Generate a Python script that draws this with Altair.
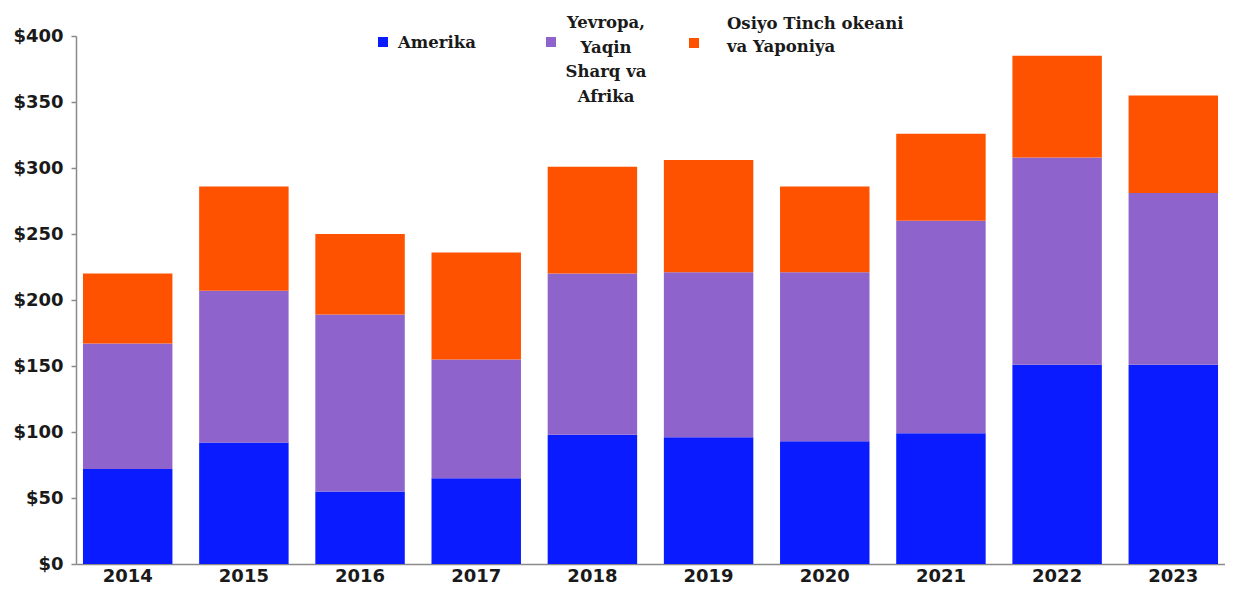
import altair as alt
import pandas as pd

years = ["2014", "2015", "2016", "2017", "2018", "2019", "2020", "2021", "2022", "2023"]
series = ["Amerika", "Yevropa, Yaqin Sharq va Afrika", "Osiyo Tinch okeani va Yaponiya"]
amerika = [72, 92, 55, 65, 98, 96, 93, 99, 151, 151]
yevropa = [95, 115, 134, 90, 122, 125, 128, 161, 157, 130]
osiyo = [53, 79, 61, 81, 81, 85, 65, 66, 77, 74]
colors = ["#0A1BFF", "#8E64CC", "#FF5200"]
legend_lines = [
    ["Amerika"],
    ["Yevropa,", "Yaqin", "Sharq va", "Afrika"],
    ["Osiyo Tinch okeani", "va Yaponiya"],
]
y_ticks = [0, 50, 100, 150, 200, 250, 300, 350, 400]

rows = []
for si, (name, vals) in enumerate(zip(series, [amerika, yevropa, osiyo])):
    for yr, v in zip(years, vals):
        rows.append({"year": yr, "region": name, "value": v, "idx": si})
df = pd.DataFrame(rows)

AXIS_GRAY = "#8a8a8a"
LABEL_COLOR = "#1a1a1a"

bars = alt.Chart(df).mark_bar(strokeWidth=0).encode(
    x=alt.X(
        "year:N",
        sort=years,
        scale=alt.Scale(paddingInner=0.23, paddingOuter=0.06),
        axis=alt.Axis(
            title=None, labelAngle=0, ticks=False, domainColor=AXIS_GRAY,
            domainWidth=1.5, labelFont="DejaVu Sans", labelFontWeight="bold",
            labelFontSize=18, labelPadding=3, labelColor=LABEL_COLOR,
        ),
    ),
    y=alt.Y(
        "value:Q",
        stack="zero",
        scale=alt.Scale(domain=[0, 400], nice=False),
        axis=alt.Axis(
            title=None, values=y_ticks, format="$.0f", grid=False,
            tickSize=5, tickColor=AXIS_GRAY, domainColor=AXIS_GRAY,
            domainWidth=1.5, tickWidth=1.5, labelPadding=8,
            labelFont="DejaVu Sans", labelFontWeight="bold", labelFontSize=18,
            labelColor=LABEL_COLOR,
        ),
    ),
    color=alt.Color(
        "region:N",
        scale=alt.Scale(domain=series, range=colors),
        legend=None,
    ),
    order=alt.Order("idx:Q", sort="ascending"),
)

# Manual legend (placement only; names & colours come from the lists above)
sq_pos = [(307, 6), (475, 6), (618, 7)]
txt_pos = [(322, 12, "left"), (530, -8, "center"), (651, -7, "left")]
line_h = [24, 24.5, 23]

layers = [bars]
for i in range(3):
    one = pd.DataFrame({"region": [series[i]]})
    layers.append(
        alt.Chart(one).mark_square(size=100, opacity=1).encode(
            x=alt.value(sq_pos[i][0]), y=alt.value(sq_pos[i][1]),
            color=alt.value(colors[i]),
        )
    )
    layers.append(
        alt.Chart(one).mark_text(
            font="DejaVu Serif", fontWeight="bold", fontSize=16.5,
            align=txt_pos[i][2], baseline="alphabetic", lineHeight=line_h[i],
            color=LABEL_COLOR,
        ).encode(
            x=alt.value(txt_pos[i][0]), y=alt.value(txt_pos[i][1]),
            text=alt.value(legend_lines[i]),
        )
    )

chart = alt.layer(*layers).properties(
    width=1149,
    height=528,
    padding={"left": 68, "top": 28, "right": 0, "bottom": 22},
    autosize=alt.AutoSizeParams(type="none"),
    background="white",
).configure_view(stroke=None)

chart.save("out.html", embed_options={"renderer": "svg", "actions": False})
